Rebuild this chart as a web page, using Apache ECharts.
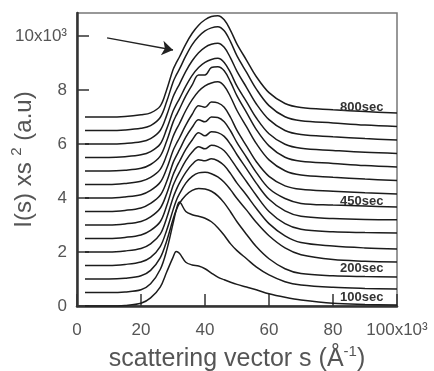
<!DOCTYPE html>
<html>
<head>
<meta charset="utf-8">
<script src="https://cdn.jsdelivr.net/npm/echarts@6/dist/echarts.min.js"></script>
<style>
  html, body { margin: 0; padding: 0; background: #fff; }
  #chart { width: 434px; height: 371px; }
</style>
</head>
<body>
<div id="chart"></div>
<script>
// scattering vector s (x10^3 1/A)
const sVals = [2.5, 10, 15, 20, 23, 26, 28, 30, 31, 32, 34, 36, 38, 40, 42, 44, 46, 48, 50, 53, 56, 60, 65, 70, 80, 90, 100];

// I(s) x s^2 (x10^3, a.u.), curves shifted by 500 each as in the figure
const i100 = [0.0, 0.0, 0.02, 0.1, 0.3, 0.7, 1.25, 1.8, 2.02, 1.95, 1.62, 1.52, 1.48, 1.38, 1.22, 1.07, 0.97, 0.88, 0.8, 0.7, 0.6, 0.45, 0.32, 0.22, 0.1, 0.06, 0.04];
const i150 = [0.5, 0.5, 0.52, 0.6, 0.82, 1.35, 2.05, 3.05, 3.55, 3.85, 3.5, 3.38, 3.32, 3.25, 3.12, 2.9, 2.62, 2.3, 2.05, 1.75, 1.45, 1.15, 0.9, 0.78, 0.69, 0.65, 0.63];
const i200 = [1.0, 1.0, 1.03, 1.12, 1.32, 1.78, 2.4, 3.2, 3.55, 3.8, 4.1, 4.28, 4.35, 4.33, 4.25, 4.08, 3.82, 3.48, 3.12, 2.65, 2.2, 1.75, 1.38, 1.2, 1.12, 1.09, 1.07];
const i250 = [1.5, 1.5, 1.54, 1.63, 1.8, 2.2, 2.8, 3.55, 3.9, 4.15, 4.55, 4.8, 4.93, 4.95, 4.9, 4.78, 4.58, 4.3, 3.98, 3.55, 3.1, 2.6, 2.15, 1.9, 1.72, 1.66, 1.63];
const i300 = [2.0, 2.0, 2.04, 2.13, 2.3, 2.66, 3.25, 4.0, 4.3, 4.55, 4.95, 5.25, 5.42, 5.38, 5.45, 5.38, 5.2, 4.9, 4.55, 4.1, 3.62, 3.05, 2.6, 2.35, 2.22, 2.15, 2.11];
const i350 = [2.5, 2.5, 2.54, 2.63, 2.8, 3.12, 3.7, 4.45, 4.72, 4.95, 5.38, 5.7, 5.9, 5.82, 5.95, 5.9, 5.75, 5.45, 5.1, 4.6, 4.1, 3.5, 3.05, 2.84, 2.75, 2.72, 2.7];
const i400 = [3.0, 3.0, 3.04, 3.13, 3.3, 3.62, 4.15, 4.85, 5.12, 5.35, 5.8, 6.15, 6.42, 6.3, 6.45, 6.42, 6.28, 5.98, 5.6, 5.08, 4.55, 3.95, 3.52, 3.32, 3.24, 3.2, 3.19];
const i450 = [3.5, 3.5, 3.54, 3.63, 3.8, 4.1, 4.6, 5.3, 5.55, 5.78, 6.25, 6.62, 6.9, 6.82, 7.0, 6.98, 6.82, 6.48, 6.05, 5.5, 4.95, 4.35, 3.98, 3.8, 3.74, 3.7, 3.67];
const i500 = [4.0, 4.0, 4.04, 4.12, 4.28, 4.58, 5.08, 5.75, 6.0, 6.22, 6.7, 7.1, 7.42, 7.36, 7.55, 7.52, 7.36, 6.98, 6.5, 5.92, 5.35, 4.8, 4.45, 4.32, 4.25, 4.19, 4.15];
const i550 = [4.5, 4.5, 4.54, 4.62, 4.76, 5.06, 5.58, 6.27, 6.53, 6.75, 7.24, 7.64, 7.95, 8.15, 8.26, 8.3, 8.15, 7.74, 7.24, 6.63, 6.02, 5.41, 5.01, 4.85, 4.77, 4.7, 4.65];
const i600 = [5.0, 5.0, 5.03, 5.1, 5.24, 5.55, 6.1, 6.8, 7.06, 7.29, 7.78, 8.19, 8.55, 8.55, 8.83, 8.86, 8.71, 8.29, 7.78, 7.16, 6.54, 5.93, 5.51, 5.36, 5.28, 5.2, 5.15];
const i650 = [5.5, 5.5, 5.53, 5.6, 5.72, 6.0, 6.55, 7.21, 7.46, 7.67, 8.14, 8.54, 8.83, 9.02, 9.13, 9.17, 9.02, 8.63, 8.14, 7.56, 6.97, 6.38, 5.99, 5.84, 5.76, 5.69, 5.65];
const i700 = [6.0, 6.0, 6.02, 6.08, 6.2, 6.5, 7.05, 7.74, 7.99, 8.21, 8.69, 9.08, 9.38, 9.58, 9.69, 9.73, 9.58, 9.18, 8.69, 8.09, 7.49, 6.9, 6.5, 6.35, 6.27, 6.2, 6.15];
const i750 = [6.5, 6.5, 6.52, 6.58, 6.68, 6.98, 7.56, 8.29, 8.55, 8.77, 9.26, 9.68, 9.98, 10.19, 10.3, 10.34, 10.19, 9.78, 9.26, 8.65, 8.04, 7.42, 7.01, 6.86, 6.78, 6.7, 6.65];
const i800 = [7.0, 7.0, 7.02, 7.08, 7.15, 7.4, 8.0, 8.75, 9.0, 9.22, 9.7, 10.1, 10.4, 10.6, 10.72, 10.75, 10.6, 10.2, 9.7, 9.1, 8.5, 7.9, 7.5, 7.35, 7.27, 7.2, 7.15];

const curves = [i100, i150, i200, i250, i300, i350, i400, i450, i500, i550, i600, i650, i700, i750, i800];
const times = [100, 150, 200, 250, 300, 350, 400, 450, 500, 550, 600, 650, 700, 750, 800];
const labelledTimes = [100, 200, 450, 800];

const chart = echarts.init(document.getElementById('chart'));

const textColor = '#555';
const font = 'Liberation Sans, Arial, sans-serif';

// label spots sit just above each curve's flat tail
const tagSpot = { 100: 0.33, 200: 1.41, 450: 3.89, 800: 7.37 };

const series = curves.map((vals, k) => {
  const t = times[k];
  const s = {
    name: t + 'sec',
    type: 'line',
    data: sVals.map((x, i) => [x, vals[i]]),
    smooth: 0.35,
    showSymbol: false,
    silent: true,
    lineStyle: { color: '#1c1c1c', width: 1.5 },
    z: 3,
  };
  if (labelledTimes.indexOf(t) >= 0) {
    s.markPoint = {
      symbol: 'rect',
      symbolSize: [0, 0],
      silent: true,
      label: {
        show: true,
        position: 'inside',
        formatter: t + 'sec',
        color: '#333',
        fontSize: 13,
        fontWeight: 'bold',
        fontFamily: font,
      },
      data: [{ coord: [89, tagSpot[t]] }],
    };
  }
  if (t === 800) {
    s.markLine = {
      silent: true,
      symbol: ['none', 'arrow'],
      symbolSize: 11,
      label: { show: false },
      lineStyle: { color: '#222', width: 1.3, type: 'solid' },
      data: [[{ coord: [9.4, 9.93] }, { coord: [30, 9.48] }]],
    };
  }
  return s;
});

const option = {
  animation: false,
  grid: {
    left: 77,
    right: 37,
    top: 13,
    bottom: 65,
    containLabel: false,
    outerBoundsMode: 'none',
    show: true,
    borderColor: '#777',
    borderWidth: 1.5,
  },
  xAxis: {
    type: 'value',
    min: 0,
    max: 100,
    interval: 20,
    name: 'scattering vector s (Å{sup|-1})',
    nameLocation: 'middle',
    nameGap: 38,
    nameMoveOverlap: false,
    nameTextStyle: {
      color: textColor,
      fontSize: 25,
      fontFamily: font,
      rich: { sup: { fontSize: 15, verticalAlign: 'top', padding: [0, 0, 16, 0], color: textColor } },
    },
    axisLine: { show: true, lineStyle: { color: '#333', width: 2.5 } },
    axisTick: { show: true, inside: true, length: 12, lineStyle: { color: '#333', width: 1.5 } },
    axisLabel: {
      color: textColor,
      fontSize: 17,
      fontFamily: font,
      margin: 16,
      formatter: v => (v === 100 ? '100x10³' : String(v)),
    },
    splitLine: { show: false },
  },
  yAxis: {
    type: 'value',
    min: 0,
    max: 10.85,
    interval: 2,
    name: 'I(s) xs {sup|2} (a.u)',
    nameLocation: 'middle',
    nameGap: 37,
    nameMoveOverlap: false,
    nameTextStyle: {
      color: textColor,
      fontSize: 24,
      fontFamily: font,
      rich: { sup: { fontSize: 15, padding: [0, 0, 16, 0], color: textColor } },
    },
    axisLine: { show: true, lineStyle: { color: '#333', width: 2.5 } },
    axisTick: { show: true, inside: true, length: 12, lineStyle: { color: '#333', width: 1.5 } },
    axisLabel: {
      color: textColor,
      fontSize: 17,
      fontFamily: font,
      margin: 10,
      showMaxLabel: false,
      formatter: v => (v === 10 ? '10x10³' : (v % 2 === 0 ? String(v) : '')),
    },
    splitLine: { show: false },
  },
  series: series,
};

chart.setOption(option);
</script>
</body>
</html>
